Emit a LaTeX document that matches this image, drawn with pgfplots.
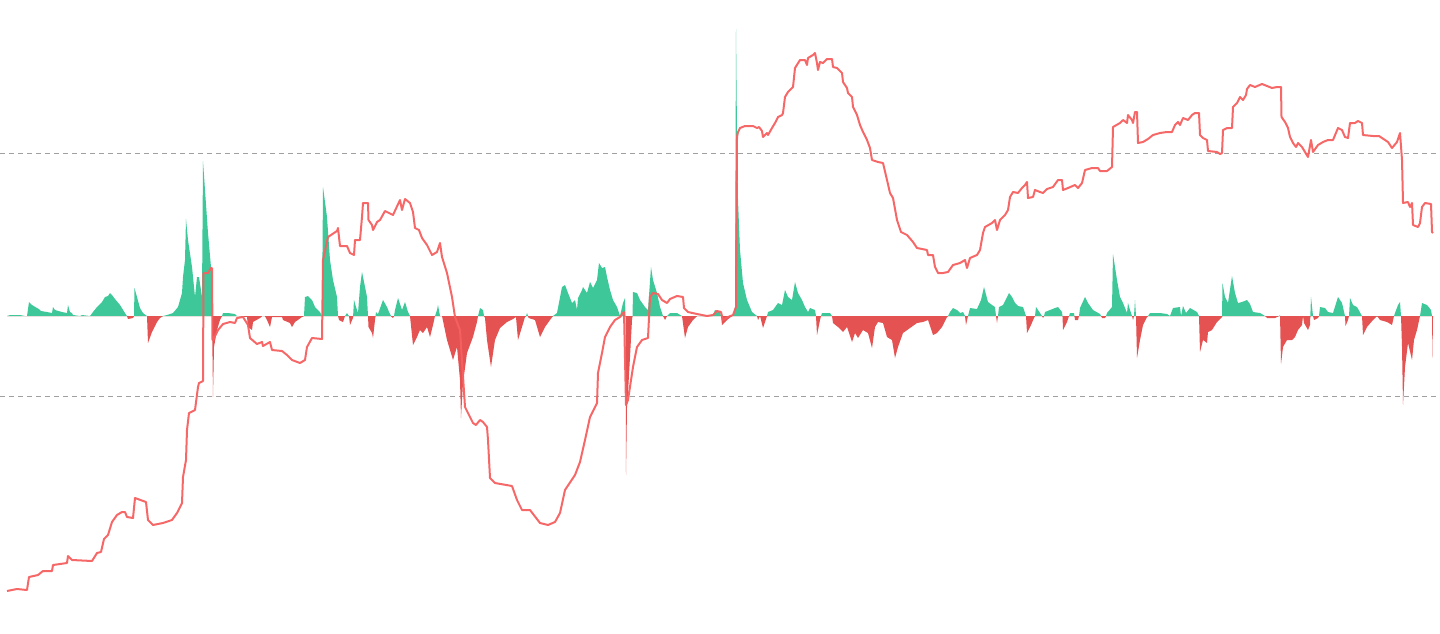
\documentclass[border=0pt]{standalone}
\usepackage{pgfplots}
\pgfplotsset{compat=1.18}
\definecolor{upg}{RGB}{62,199,152}
\definecolor{dnr}{RGB}{228,82,82}
\definecolor{lnr}{RGB}{246,96,96}
\definecolor{dsh}{RGB}{160,160,160}
\begin{document}
\begin{tikzpicture}
\begin{axis}[scale only axis, width=1440pt, height=633pt,
  xmin=0, xmax=1440, ymin=0, ymax=633, y dir=reverse,
  axis line style={draw=none}, ticks=none, clip=true]
\addplot[dsh, line width=1pt, dash pattern=on 5pt off 4pt] coordinates {(0,153) (1440,153)};
\addplot[dsh, line width=1pt, dash pattern=on 5pt off 4pt] coordinates {(0,396) (1440,396)};
\begin{scope}
\clip (axis cs:0,0) rectangle (axis cs:1440,316);
\addplot[draw=none, fill=upg] coordinates {(7,316) (10,315) (20,315) (25,316) (27,316) (29,302) (32,305) (37,308) (39,309) (41,311) (47,312) (52,313) (53,307) (55,310) (62,312) (67,313) (68,305) (70,312) (72,313) (73,315) (80,316) (82,315) (90,316) (93,312) (97,307) (102,302) (105,297) (108,296) (110,293) (112,295) (115,299) (120,305) (125,313) (127,316) (128,319) (133,318) (134,316) (134.5,288) (137,297) (140,308) (143,313) (147,316) (148,343) (152,332) (157,322) (160,318) (163,316) (167,315) (173,313) (178,307) (182,293) (183,277) (185,260) (186,219) (188,240) (192,267) (195,297) (197,277) (199,277) (202,297) (203,161) (205,190) (208,233) (211,267) (212,316) (213,397) (214,347) (217,330) (220,320) (222,316) (223,313) (228,313) (235,314) (237,316) (247,317) (248,327) (252,330) (253,322) (260,318) (262,316) (265,316) (267,320) (270,327) (272,317) (282,317) (283,320) (290,323) (292,327) (295,322) (302,317) (304,316) (305,297) (308,296) (312,300) (315,307) (320,312) (322,316) (323,187) (327,217) (330,260) (333,280) (337,297) (338,316) (339,320) (343,322) (345,316) (347,313) (349,316) (350,325) (353,318) (354,300) (356,307) (358,313) (360,287) (362,272) (363,277) (367,297) (368,316) (368.5,327) (372,333) (373,338) (375,320) (376,312) (378,314) (383,300) (387,307) (389,312) (391,316) (393,318) (394,316) (395,310) (398,298) (402,310) (405,302) (408,312) (410,316) (413,345) (417,337) (420,330) (423,333) (427,327) (430,337) (433,325) (435,316) (437,310) (438,305) (440,316) (442,316) (447,340) (450,350) (453,360) (457,347) (460,380) (461,418) (463,383) (467,353) (473,337) (477,322) (478,316) (480,308) (483,310) (484,316) (485,318) (487,340) (491,367) (495,340) (500,328) (507,322) (513,319) (516,317) (518,340) (522,327) (525,317) (526,316) (527,313) (528,316) (528.5,318) (535,320) (540,337) (545,327) (550,320) (553,316) (557,313) (562,287) (565,285) (568,293) (572,303) (575,300) (577,310) (578,298) (582,290) (583,287) (587,293) (590,282) (593,288) (597,280) (599,263) (602,268) (605,267) (607,277) (610,290) (613,300) (617,307) (620,316) (623,303) (625,298) (625.5,316) (626,475) (627,407) (628,393) (630,357) (632,320) (632.5,316) (633,292) (637,293) (640,300) (645,307) (648,310) (651,267) (653,280) (657,293) (660,307) (663,316) (665,320) (667,316) (670,313) (677,313) (682,316) (685,338) (688,327) (693,320) (697,316) (713,315) (715,310) (720,312) (721,316) (722,325) (727,320) (732,316) (733,316) (735,307) (736,29) (737,133) (738,200) (740,250) (743,283) (747,300) (752,312) (757,316) (758,320) (760,316) (763,328) (765,322) (767,316) (768,312) (773,310) (778,303) (782,305) (785,290) (788,297) (792,300) (795,282) (798,293) (802,300) (805,307) (808,312) (810,308) (815,310) (816,316) (817,335) (820,320) (821,316) (822,313) (830,313) (832,316) (833,323) (838,327) (843,332) (847,327) (852,342) (855,333) (858,338) (863,330) (868,333) (872,348) (875,327) (878,322) (883,323) (887,337) (892,340) (895,358) (898,347) (903,333) (910,328) (917,323) (923,322) (928,320) (933,335) (937,333) (942,327) (947,317) (948,316) (950,312) (953,308) (957,310) (960,313) (963,312) (965,316) (966,325) (968,316) (970,308) (977,309) (981,300) (984,287) (988,302) (992,305) (995,307) (996,316) (997,323) (998,316) (999,307) (1003,305) (1009,293) (1012,297) (1015,303) (1018,306) (1023,307) (1026,316) (1027,333) (1031,325) (1034,318) (1035,316) (1036,307) (1040,313) (1042,316) (1043,318) (1044,316) (1045,312) (1055,308) (1058,307) (1062,312) (1062.5,316) (1063,330) (1067,322) (1069,316) (1070,313) (1074,313) (1075,320) (1078,320) (1079,316) (1080,308) (1085,297) (1088,303) (1093,310) (1100,314) (1101,316) (1102,318) (1105,318) (1106,316) (1107,313) (1112,307) (1113,254) (1117,280) (1120,297) (1123,303) (1127,313) (1128,303) (1130,310) (1132,316) (1133,320) (1134,316) (1135,300) (1136,316) (1137,358) (1140,340) (1143,325) (1147,317) (1148,316) (1150,313) (1160,313) (1167,314) (1170,316) (1173,308) (1180,307) (1181,316) (1183,306) (1186,313) (1190,308) (1197,312) (1199,316) (1200,352) (1203,340) (1207,343) (1208,332) (1212,330) (1217,322) (1222,317) (1222.5,283) (1225,297) (1228,303) (1232,276) (1235,293) (1238,303) (1242,302) (1247,300) (1250,304) (1253,312) (1260,313) (1265,316) (1267,318) (1275,318) (1279,316) (1280,315) (1281,364) (1283,347) (1287,340) (1292,340) (1295,337) (1298,330) (1302,325) (1303,316) (1304,323) (1308,330) (1310,325) (1311,297) (1313,316) (1314,320) (1318,318) (1319,316) (1320,307) (1325,308) (1328,312) (1333,313) (1338,297) (1342,303) (1345,316) (1345.5,326) (1348,320) (1349,316) (1350,298) (1353,305) (1357,307) (1362,316) (1363,335) (1367,327) (1373,320) (1377,316) (1380,320) (1387,322) (1392,325) (1394,316) (1395,313) (1398,305) (1400,302) (1401,316) (1402,347) (1403,405) (1405,367) (1408,343) (1412,360) (1414,340) (1417,330) (1420,316) (1422,303) (1427,305) (1431,310) (1432,316) (1432.5,358) (1433,317) (1433,316)} -- cycle;
\end{scope}
\begin{scope}
\clip (axis cs:0,316) rectangle (axis cs:1440,633);
\addplot[draw=none, fill=dnr] coordinates {(7,316) (10,315) (20,315) (25,316) (27,316) (29,302) (32,305) (37,308) (39,309) (41,311) (47,312) (52,313) (53,307) (55,310) (62,312) (67,313) (68,305) (70,312) (72,313) (73,315) (80,316) (82,315) (90,316) (93,312) (97,307) (102,302) (105,297) (108,296) (110,293) (112,295) (115,299) (120,305) (125,313) (127,316) (128,319) (133,318) (134,316) (134.5,288) (137,297) (140,308) (143,313) (147,316) (148,343) (152,332) (157,322) (160,318) (163,316) (167,315) (173,313) (178,307) (182,293) (183,277) (185,260) (186,219) (188,240) (192,267) (195,297) (197,277) (199,277) (202,297) (203,161) (205,190) (208,233) (211,267) (212,316) (213,397) (214,347) (217,330) (220,320) (222,316) (223,313) (228,313) (235,314) (237,316) (247,317) (248,327) (252,330) (253,322) (260,318) (262,316) (265,316) (267,320) (270,327) (272,317) (282,317) (283,320) (290,323) (292,327) (295,322) (302,317) (304,316) (305,297) (308,296) (312,300) (315,307) (320,312) (322,316) (323,187) (327,217) (330,260) (333,280) (337,297) (338,316) (339,320) (343,322) (345,316) (347,313) (349,316) (350,325) (353,318) (354,300) (356,307) (358,313) (360,287) (362,272) (363,277) (367,297) (368,316) (368.5,327) (372,333) (373,338) (375,320) (376,312) (378,314) (383,300) (387,307) (389,312) (391,316) (393,318) (394,316) (395,310) (398,298) (402,310) (405,302) (408,312) (410,316) (413,345) (417,337) (420,330) (423,333) (427,327) (430,337) (433,325) (435,316) (437,310) (438,305) (440,316) (442,316) (447,340) (450,350) (453,360) (457,347) (460,380) (461,418) (463,383) (467,353) (473,337) (477,322) (478,316) (480,308) (483,310) (484,316) (485,318) (487,340) (491,367) (495,340) (500,328) (507,322) (513,319) (516,317) (518,340) (522,327) (525,317) (526,316) (527,313) (528,316) (528.5,318) (535,320) (540,337) (545,327) (550,320) (553,316) (557,313) (562,287) (565,285) (568,293) (572,303) (575,300) (577,310) (578,298) (582,290) (583,287) (587,293) (590,282) (593,288) (597,280) (599,263) (602,268) (605,267) (607,277) (610,290) (613,300) (617,307) (620,316) (623,303) (625,298) (625.5,316) (626,475) (627,407) (628,393) (630,357) (632,320) (632.5,316) (633,292) (637,293) (640,300) (645,307) (648,310) (651,267) (653,280) (657,293) (660,307) (663,316) (665,320) (667,316) (670,313) (677,313) (682,316) (685,338) (688,327) (693,320) (697,316) (713,315) (715,310) (720,312) (721,316) (722,325) (727,320) (732,316) (733,316) (735,307) (736,29) (737,133) (738,200) (740,250) (743,283) (747,300) (752,312) (757,316) (758,320) (760,316) (763,328) (765,322) (767,316) (768,312) (773,310) (778,303) (782,305) (785,290) (788,297) (792,300) (795,282) (798,293) (802,300) (805,307) (808,312) (810,308) (815,310) (816,316) (817,335) (820,320) (821,316) (822,313) (830,313) (832,316) (833,323) (838,327) (843,332) (847,327) (852,342) (855,333) (858,338) (863,330) (868,333) (872,348) (875,327) (878,322) (883,323) (887,337) (892,340) (895,358) (898,347) (903,333) (910,328) (917,323) (923,322) (928,320) (933,335) (937,333) (942,327) (947,317) (948,316) (950,312) (953,308) (957,310) (960,313) (963,312) (965,316) (966,325) (968,316) (970,308) (977,309) (981,300) (984,287) (988,302) (992,305) (995,307) (996,316) (997,323) (998,316) (999,307) (1003,305) (1009,293) (1012,297) (1015,303) (1018,306) (1023,307) (1026,316) (1027,333) (1031,325) (1034,318) (1035,316) (1036,307) (1040,313) (1042,316) (1043,318) (1044,316) (1045,312) (1055,308) (1058,307) (1062,312) (1062.5,316) (1063,330) (1067,322) (1069,316) (1070,313) (1074,313) (1075,320) (1078,320) (1079,316) (1080,308) (1085,297) (1088,303) (1093,310) (1100,314) (1101,316) (1102,318) (1105,318) (1106,316) (1107,313) (1112,307) (1113,254) (1117,280) (1120,297) (1123,303) (1127,313) (1128,303) (1130,310) (1132,316) (1133,320) (1134,316) (1135,300) (1136,316) (1137,358) (1140,340) (1143,325) (1147,317) (1148,316) (1150,313) (1160,313) (1167,314) (1170,316) (1173,308) (1180,307) (1181,316) (1183,306) (1186,313) (1190,308) (1197,312) (1199,316) (1200,352) (1203,340) (1207,343) (1208,332) (1212,330) (1217,322) (1222,317) (1222.5,283) (1225,297) (1228,303) (1232,276) (1235,293) (1238,303) (1242,302) (1247,300) (1250,304) (1253,312) (1260,313) (1265,316) (1267,318) (1275,318) (1279,316) (1280,315) (1281,364) (1283,347) (1287,340) (1292,340) (1295,337) (1298,330) (1302,325) (1303,316) (1304,323) (1308,330) (1310,325) (1311,297) (1313,316) (1314,320) (1318,318) (1319,316) (1320,307) (1325,308) (1328,312) (1333,313) (1338,297) (1342,303) (1345,316) (1345.5,326) (1348,320) (1349,316) (1350,298) (1353,305) (1357,307) (1362,316) (1363,335) (1367,327) (1373,320) (1377,316) (1380,320) (1387,322) (1392,325) (1394,316) (1395,313) (1398,305) (1400,302) (1401,316) (1402,347) (1403,405) (1405,367) (1408,343) (1412,360) (1414,340) (1417,330) (1420,316) (1422,303) (1427,305) (1431,310) (1432,316) (1432.5,358) (1433,317) (1433,316)} -- cycle;
\end{scope}
\addplot[lnr, line width=2pt, opacity=0.95, line join=round] coordinates {(7,591) (17,589) (27,590) (29,577) (38,575) (43,571) (52,571) (53,565) (67,563) (68,556) (72,560) (92,561) (97,553) (101,552) (104,539) (108,535) (112,522) (117,515) (122,512) (125,512) (127,517) (133,518) (135,498) (146,502) (148,520) (153,525) (163,523) (172,520) (177,513) (182,503) (183,477) (186,460) (187,430) (189,413) (195,410) (198,387) (199,383) (203,381) (203.5,273) (208,273) (211,268) (212,268) (212.5,340) (213,340) (218,330) (223,324) (230,322) (235,323) (237,318) (243,317) (248,325) (250,338) (257,344) (262,342) (263,346) (270,342) (272,350) (282,351) (287,355) (292,360) (300,363) (305,360) (307,347) (312,338) (322,339) (323,260) (328,237) (337,231) (338,228) (340,246) (347,246) (350,253) (354,255) (355,240) (360,240) (362,217) (363,203) (368,203) (368.5,220) (372,225) (373,230) (377,222) (380,220) (385,211) (393,215) (400,200) (402,210) (405,199) (410,203) (413,212) (415,228) (419,230) (422,238) (427,245) (432,255) (437,252) (440,243) (442,257) (447,273) (452,297) (455,317) (460,330) (465,407) (470,417) (473,423) (476,425) (480,420) (483,422) (487,427) (488,440) (490,478) (495,483) (512,486) (517,500) (522,510) (530,510) (540,523) (548,525) (555,522) (560,513) (565,490) (575,475) (580,462) (585,440) (590,417) (597,403) (598,373) (602,353) (605,337) (610,327) (615,320) (620,317) (623,313) (624,312) (626,405) (628,400) (633,367) (637,347) (642,340) (648,338) (650,297) (653,293) (658,294) (662,300) (667,303) (670,299) (677,296) (683,297) (684,308) (688,312) (697,314) (707,316) (713,315) (717,311) (721,312) (723,320) (728,317) (733,315) (736,307) (737,137) (738,132) (740,128) (745,126) (753,126) (757,128) (759,127) (762,131) (763,137) (767,133) (768,135) (772,128) (775,123) (778,117) (782,115) (783,113) (785,97) (788,92) (793,87) (795,68) (800,60) (805,60) (807,65) (808,58) (813,55) (815,53) (817,63) (818,70) (820,62) (823,63) (827,59) (832,59) (833,67) (837,68) (842,73) (843,82) (847,88) (848,93) (852,97) (853,107) (857,115) (860,125) (863,132) (867,140) (870,148) (872,160) (878,162) (883,163) (887,180) (890,193) (893,198) (897,220) (901,232) (907,235) (913,242) (917,248) (927,250) (928,255) (933,255) (935,267) (938,273) (943,273) (948,272) (953,265) (960,263) (965,260) (967,268) (970,258) (977,255) (980,250) (983,233) (985,227) (992,223) (995,220) (997,230) (1000,220) (1005,215) (1008,210) (1010,197) (1013,192) (1018,193) (1022,188) (1025,185) (1027,182) (1028,198) (1033,197) (1035,190) (1040,192) (1043,193) (1047,189) (1053,187) (1058,180) (1062,180) (1063,190) (1068,188) (1075,185) (1078,188) (1082,183) (1085,170) (1092,168) (1098,168) (1100,171) (1107,171) (1112,167) (1113,127) (1120,123) (1123,120) (1127,123) (1128,115) (1132,120) (1133,123) (1135,112) (1137,112) (1138,143) (1143,142) (1148,139) (1153,135) (1160,133) (1167,132) (1172,132) (1175,125) (1178,122) (1180,125) (1183,118) (1188,120) (1192,115) (1195,113) (1199,113) (1200,135) (1203,138) (1207,140) (1208,151) (1217,152) (1220,154) (1222,153) (1223,130) (1227,128) (1232,128) (1233,107) (1237,103) (1240,97) (1243,100) (1246,95) (1247,89) (1250,85) (1255,87) (1262,84) (1267,86) (1272,88) (1277,87) (1281,87) (1281.5,117) (1285,122) (1288,128) (1290,137) (1293,143) (1296,147) (1298,143) (1302,147) (1305,152) (1308,157) (1311,140) (1313,152) (1318,145) (1323,142) (1328,140) (1333,140) (1338,128) (1342,130) (1345,137) (1348,138) (1350,123) (1355,123) (1358,121) (1362,123) (1363,135) (1373,136) (1379,136) (1382,138) (1388,142) (1392,148) (1397,142) (1400,133) (1402,160) (1403,203) (1408,202) (1410,207) (1412,203) (1413,225) (1418,227) (1420,223) (1422,207) (1425,203) (1431,204) (1432,232) (1433,233)};
\end{axis}
\end{tikzpicture}
\end{document}
